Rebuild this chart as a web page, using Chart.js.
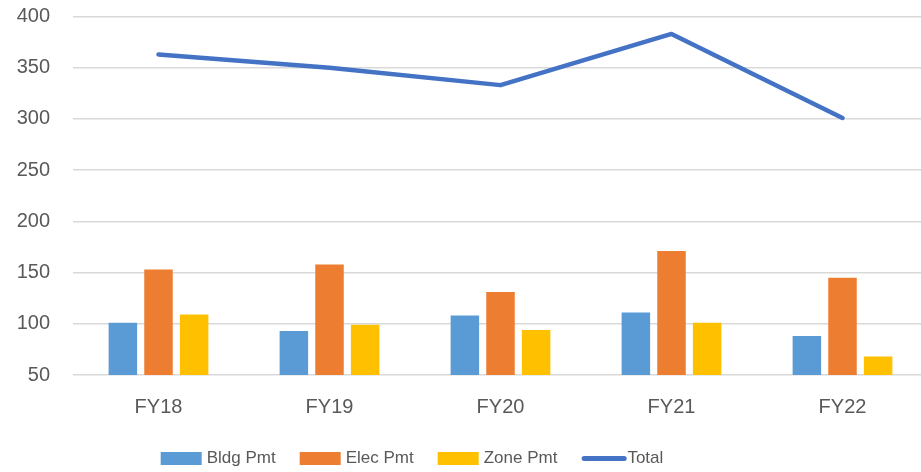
<!DOCTYPE html>
<html>
<head>
<meta charset="utf-8">
<script src="https://cdn.jsdelivr.net/npm/chart.js@4/dist/chart.umd.min.js"></script>
<style>
  html, body { margin: 0; padding: 0; background: #fff; overflow: hidden; }
  #wrap { position: relative; width: 928px; height: 472px; }
  #legend {
    position: absolute; left: 412px; top: 448px; transform: translateX(-50%);
    display: flex; align-items: center; white-space: nowrap;
    font-family: "Liberation Sans", Arial, sans-serif; font-size: 17px; color: #595959;
  }
  #legend .item { display: flex; align-items: center; margin: 0 12px; }
  #legend .swatch { width: 41px; height: 13px; margin-right: 5px; }
  #legend .line { width: 45px; height: 5px; border-radius: 3px; margin-right: 1px; }
</style>
</head>
<body>
<div id="wrap">
  <canvas id="permitChart" width="928" height="472"></canvas>
  <div id="legend"></div>
</div>
<script>
const years = ['FY18', 'FY19', 'FY20', 'FY21', 'FY22'];
const bldgPmt = [101, 93, 108, 111, 88];
const elecPmt = [153, 158, 131, 171, 145];
const zonePmt = [109, 99, 94, 101, 68];
const totalPmt = [363, 350, 333, 383, 301];
const yTicks = [50, 100, 150, 200, 250, 300, 350, 400];

const tickFont = { family: '"Liberation Sans", Arial, sans-serif', size: 20 };
const tickColor = '#595959';

function barSet(label, data, color) {
    return {
        type: 'bar',
        label: label,
        data: data,
        backgroundColor: color,
        borderWidth: 0,
        categoryPercentage: 0.625,
        barPercentage: 0.8,
        order: 1
    };
}

const ctx = document.getElementById('permitChart').getContext('2d');
const permitChart = new Chart(ctx, {
    data: {
        labels: years,
        datasets: [
            barSet('Bldg Pmt', bldgPmt, '#5B9BD5'),
            barSet('Elec Pmt', elecPmt, '#ED7D31'),
            barSet('Zone Pmt', zonePmt, '#FFC000'),
            {
                type: 'line',
                label: 'Total',
                data: totalPmt,
                borderColor: '#4472C4',
                backgroundColor: '#4472C4',
                borderWidth: 4.5,
                borderCapStyle: 'round',
                borderJoinStyle: 'round',
                pointRadius: 0,
                tension: 0,
                fill: false,
                order: 0
            }
        ]
    },
    options: {
        responsive: false,
        animation: false,
        devicePixelRatio: 1,
        layout: { padding: { left: 16, right: 0, top: 16.5, bottom: 41 } },
        plugins: {
            legend: { display: false },
            tooltip: { enabled: false }
        },
        scales: {
            x: {
                offset: true,
                grid: { display: false },
                border: { display: false },
                ticks: { font: tickFont, color: tickColor, padding: 12 }
            },
            y: {
                min: 50,
                max: 400,
                afterBuildTicks: (axis) => { axis.ticks = yTicks.map(v => ({ value: v })); },
                afterFit: (axis) => { axis.width = 57; },
                // invisible tick marks keep the labels clear of the plot
                grid: { color: '#D9D9D9', lineWidth: 1.5, drawTicks: true, tickLength: 23, tickColor: 'rgba(0,0,0,0)' },
                border: { display: false },
                ticks: { font: tickFont, color: tickColor, padding: 0 }
            }
        }
    }
});

// legend built from the chart's datasets
const legendEl = document.getElementById('legend');
permitChart.data.datasets.forEach(ds => {
    const item = document.createElement('div');
    item.className = 'item';
    const mark = document.createElement('span');
    mark.className = ds.type === 'line' ? 'line' : 'swatch';
    mark.style.background = ds.type === 'line' ? ds.borderColor : ds.backgroundColor;
    const text = document.createElement('span');
    text.textContent = ds.label;
    item.appendChild(mark);
    item.appendChild(text);
    legendEl.appendChild(item);
});
</script>
</body>
</html>
